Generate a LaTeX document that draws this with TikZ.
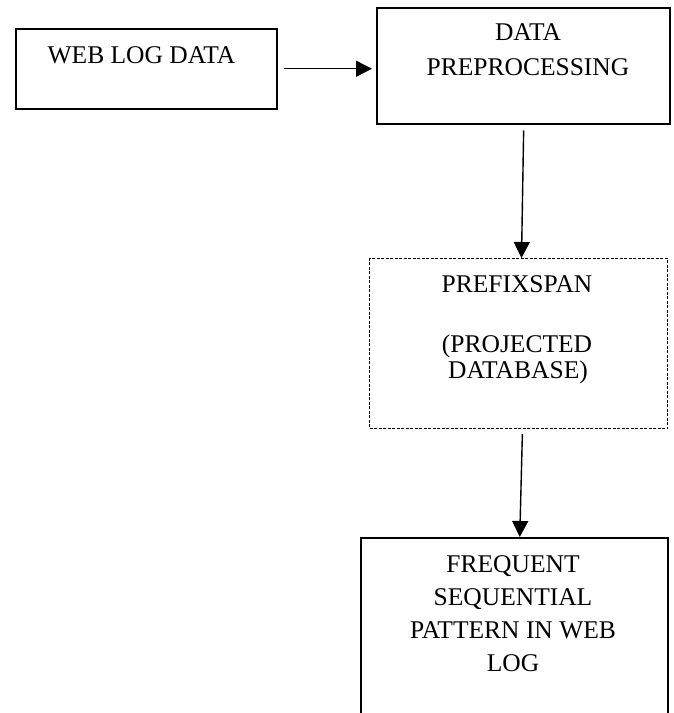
\documentclass[tikz,border=0pt]{standalone}
\usepackage{fontspec}
\setmainfont{Liberation Serif}
\usetikzlibrary{arrows.meta}
\begin{document}
\begin{tikzpicture}[x=1pt,y=-1pt,
  box/.style={draw, line width=1.5pt, anchor=north west, inner sep=0pt},
  dbox/.style={draw, line width=1pt, dash pattern=on 3pt off 1.5pt, anchor=north west, inner sep=0pt},
  txt/.style={anchor=base, font=\fontsize{25.5}{30}\selectfont, inner sep=0pt},
  arr/.style={-{Triangle[length=16pt,width=16pt]}, line width=1.4pt}]
\clip (0,0) rectangle (673,713);
% boxes
\node[box, minimum width=261pt, minimum height=80pt] (b1) at (15,28) {};
\node[box, minimum width=293pt, minimum height=116pt] (b2) at (376,7) {};
\node[dbox, minimum width=298pt, minimum height=170pt] (b3) at (369,258) {};
\node[box, minimum width=307pt, minimum height=210pt] (b4) at (360,537) {};
% texts
\node[txt] (t1) at (141.5,63) {WEB LOG DATA};
\node[txt] (t2a) at (528,40) {DATA};
\node[txt] (t2b) at (528,75) {PREPROCESSING};
\node[txt] (t3a) at (517,292) {PREFIXSPAN};
\node[txt] (t3b) at (517,352) {(PROJECTED};
\node[txt] (t3c) at (518,378) {DATABASE)};
\node[txt] (t4a) at (513,572) {FREQUENT};
\node[txt] (t4b) at (513,605) {SEQUENTIAL};
\node[txt] (t4c) at (513,638) {PATTERN IN WEB};
\node[txt] (t4d) at (513,671) {LOG};
% connectors
\draw[arr, shorten <=6pt, shorten >=4pt] (b1.east) -- (b1.east -| b2.west);
\draw[arr, shorten <=6pt] ([xshift=0.5pt]b2.south) -- ([xshift=3pt]b3.north);
\draw[arr, shorten <=5pt] ([xshift=4pt]b3.south) -- ([xshift=5.5pt]b4.north);
\end{tikzpicture}
\end{document}
